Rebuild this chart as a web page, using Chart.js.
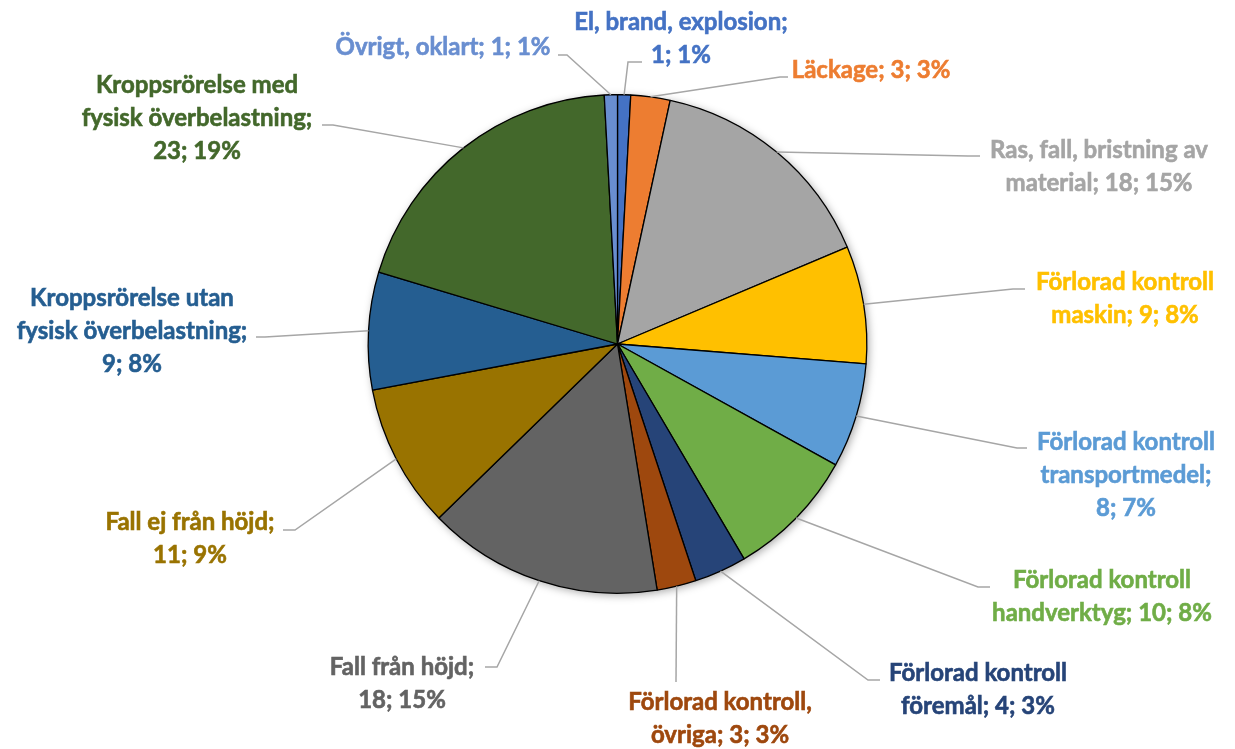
<!DOCTYPE html>
<html>
<head>
<meta charset="utf-8">
<script src="https://cdn.jsdelivr.net/npm/chart.js@4"></script>
<style>
  html, body { margin: 0; padding: 0; background: #fff; }
  #wrap { width: 1235px; height: 749px; position: relative; }
</style>
</head>
<body>
<div id="wrap"><canvas id="pie"></canvas></div>
<script>
// Data
const categories = [
  'El, brand, explosion',
  'Läckage',
  'Ras, fall, bristning av material',
  'Förlorad kontroll maskin',
  'Förlorad kontroll transportmedel',
  'Förlorad kontroll handverktyg',
  'Förlorad kontroll föremål',
  'Förlorad kontroll, övriga',
  'Fall från höjd',
  'Fall ej från höjd',
  'Kroppsrörelse utan fysisk överbelastning',
  'Kroppsrörelse med fysisk överbelastning',
  'Övrigt, oklart'
];
const counts = [1, 3, 18, 9, 8, 10, 4, 3, 18, 11, 9, 23, 1];
const percents = [1, 3, 15, 8, 7, 8, 3, 3, 15, 9, 8, 19, 1];

// how each label text is broken into lines
const labelLines = [
  ['El, brand, explosion;', '1; 1%'],
  ['Läckage; 3; 3%'],
  ['Ras, fall, bristning av', 'material; 18; 15%'],
  ['Förlorad kontroll', 'maskin; 9; 8%'],
  ['Förlorad kontroll', 'transportmedel;', '8; 7%'],
  ['Förlorad kontroll', 'handverktyg; 10; 8%'],
  ['Förlorad kontroll', 'föremål; 4; 3%'],
  ['Förlorad kontroll,', 'övriga; 3; 3%'],
  ['Fall från höjd;', '18; 15%'],
  ['Fall ej från höjd;', '11; 9%'],
  ['Kroppsrörelse utan', 'fysisk överbelastning;', '9; 8%'],
  ['Kroppsrörelse med', 'fysisk överbelastning;', '23; 19%'],
  ['Övrigt, oklart; 1; 1%']
];

const colors = ['#4472C4', '#ED7D31', '#A5A5A5', '#FFC000', '#5B9BD5', '#70AD47',
  '#264478', '#9E480E', '#636363', '#997300', '#255E91', '#43682B', '#698ED0'];

// label placement: text centre x, first line middle y, leader elbow (ex, ey) and tail end tx
const labelPos = [
  { x: 681, y: 22,  ex: 628, ey: 62,  tx: 642 },
  { x: 871, y: 70,  ex: 780, ey: 77,  tx: 788 },
  { x: 1099, y: 150, ex: 968, ey: 156, tx: 980 },
  { x: 1125, y: 282, ex: 1013, ey: 289, tx: 1025 },
  { x: 1126, y: 442, ex: 1017, ey: 448, tx: 1027 },
  { x: 1102, y: 580, ex: 978, ey: 587, tx: 990 },
  { x: 978, y: 673, ex: 868, ey: 680, tx: 880 },
  { x: 720, y: 702, ex: 676, ey: 682, tx: 676 },
  { x: 402, y: 667, ex: 497, ey: 667, tx: 485 },
  { x: 190, y: 522, ex: 295, ey: 530, tx: 283 },
  { x: 132, y: 298, ex: 265, ey: 337, tx: 256 },
  { x: 197, y: 85,  ex: 333, ey: 125, tx: 322 },
  { x: 443, y: 47,  ex: 567, ey: 55,  tx: 558 }
];

const FONT = 'bold 24px Lato, "Open Sans", sans-serif';
const LINE_H = 33;

// soft shadow under the pie
const shadowPlugin = {
  id: 'pieShadow',
  beforeDatasetsDraw(chart) {
    const arc = chart.getDatasetMeta(0).data[0];
    if (!arc) return;
    const c = chart.ctx;
    c.save();
    c.shadowColor = 'rgba(0,0,0,0.35)';
    c.shadowBlur = 8;
    c.shadowOffsetX = 2;
    c.shadowOffsetY = 2;
    c.fillStyle = '#fff';
    c.beginPath();
    c.arc(arc.x, arc.y, arc.outerRadius, 0, Math.PI * 2);
    c.fill();
    c.restore();
  }
};

// leader lines + labels
const labelPlugin = {
  id: 'leaderLabels',
  afterDatasetsDraw(chart) {
    const c = chart.ctx;
    const arcs = chart.getDatasetMeta(0).data;
    c.save();
    arcs.forEach((arc, i) => {
      const p = labelPos[i];
      const mid = (arc.startAngle + arc.endAngle) / 2;
      const sx = arc.x + Math.cos(mid) * arc.outerRadius;
      const sy = arc.y + Math.sin(mid) * arc.outerRadius;
      c.strokeStyle = '#A6A6A6';
      c.lineWidth = 1.5;
      c.beginPath();
      c.moveTo(sx, sy);
      c.lineTo(p.ex, p.ey);
      c.lineTo(p.tx, p.ey);
      c.stroke();

      // text, with a thin stroke so it looks as heavy as the original bold
      c.fillStyle = colors[i];
      c.strokeStyle = colors[i];
      c.lineWidth = 0.6;
      c.font = FONT;
      c.textAlign = 'center';
      c.textBaseline = 'middle';
      labelLines[i].forEach((ln, k) => {
        c.fillText(ln, p.x, p.y + k * LINE_H);
        c.strokeText(ln, p.x, p.y + k * LINE_H);
      });
    });
    c.restore();
  }
};

new Chart(document.getElementById('pie'), {
  type: 'pie',
  data: {
    labels: categories,
    datasets: [{
      data: counts,
      backgroundColor: colors,
      borderColor: '#000',
      borderWidth: 1.3
    }]
  },
  options: {
    responsive: true,
    maintainAspectRatio: false,
    animation: false,
    layout: { padding: { top: 94, bottom: 155, left: 0, right: 0 } },
    plugins: {
      legend: { display: false },
      tooltip: { enabled: false }
    }
  },
  plugins: [shadowPlugin, labelPlugin]
});
</script>
</body>
</html>
